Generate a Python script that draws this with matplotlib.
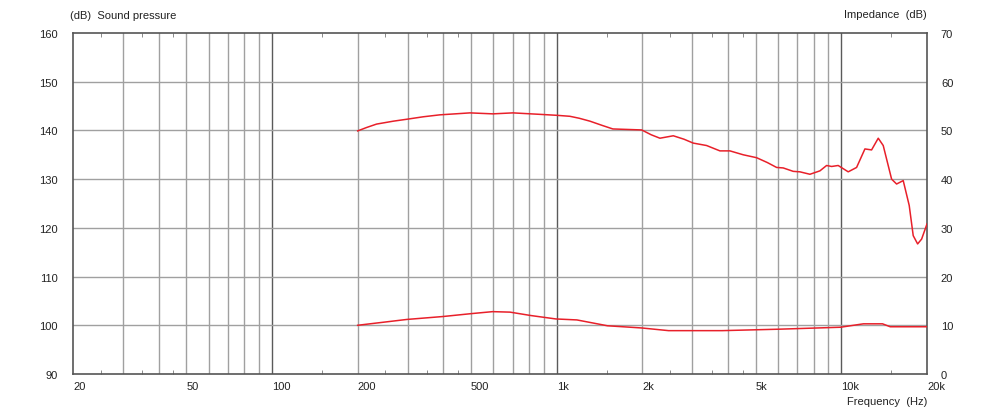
import matplotlib
matplotlib.use("Agg")
import matplotlib.pyplot as plt
import numpy as np

# sound pressure curve (left axis, dB)
spl_freq = [200, 215, 233, 267, 298, 340, 389, 440, 496, 597, 702, 873, 1002,
            1113, 1200, 1309, 1450, 1576, 1989, 2150, 2306, 2569, 2800, 3018,
            3363, 3746, 4062, 4523, 5040, 5500, 5925, 6251, 6777, 7155, 7758,
            8412, 8878, 9247, 9750, 10575, 11316, 12104, 12775, 13482, 14036,
            15021, 15640, 16500, 17320, 17890, 18540, 19150, 20000]
spl_db = [139.9, 140.6, 141.3, 141.9, 142.3, 142.8, 143.2, 143.4, 143.6, 143.4,
          143.6, 143.3, 143.1, 142.9, 142.5, 141.9, 141.0, 140.3, 140.1, 139.1,
          138.4, 138.9, 138.2, 137.4, 136.9, 135.8, 135.8, 135.0, 134.4, 133.4,
          132.4, 132.3, 131.6, 131.5, 131.0, 131.7, 132.8, 132.6, 132.8, 131.5,
          132.4, 136.2, 136.0, 138.4, 136.9, 130.0, 129.0, 129.7, 124.6, 118.4,
          116.7, 117.7, 120.8]

# impedance curve (right axis, dB)
imp_freq = [200, 236, 298, 399, 503, 596, 686, 812, 994, 1178, 1508, 1991,
            2473, 3811, 6055, 9936, 11960, 13955, 14852, 20000]
imp_db = [10.0, 10.5, 11.2, 11.8, 12.4, 12.8, 12.7, 12.0, 11.3, 11.1, 9.9, 9.45,
          8.9, 8.9, 9.2, 9.6, 10.3, 10.3, 9.7, 9.7]

x_ticks = [20, 50, 100, 200, 500, 1000, 2000, 5000, 10000, 20000]
x_labels = ["20", "50", "100", "200", "500", "1k", "2k", "5k", "10k", "20k"]
half_ticks = [25, 35, 45, 150, 250, 350, 450, 1500, 2500, 3500, 4500, 15000]

plt.rcParams["font.family"] = ["Liberation Sans", "DejaVu Sans"]
plt.rcParams["font.size"] = 8

fig = plt.figure(figsize=(10, 4.14), dpi=100)
ax = fig.add_axes([0.073, 0.0942, 0.854, 0.8237])
ax.set_xscale("log")
ax.set_xlim(20, 20000)
ax.set_ylim(90, 160)

# grid
grid_lines = [m * 10 ** e for e in range(1, 5) for m in range(1, 10)]
for f in grid_lines:
    if 20 < f < 20000:
        dark = f in (100, 1000, 10000)
        ax.axvline(f, color="#5a5a5a" if dark else "#a0a0a0", lw=1.0, zorder=1)
for v in range(100, 160, 10):
    ax.axhline(v, color="#a0a0a0", lw=1.0, zorder=1)

for s in ax.spines.values():
    s.set_color("#555555")
    s.set_linewidth(1.2)

ax.set_xticks(x_ticks)
ax.set_xticklabels(x_labels, ha="left")
ax.set_xticks(half_ticks, minor=True)
ax.tick_params(axis="x", which="major", length=0, pad=5, colors="#222222")
ax.tick_params(axis="x", which="minor", direction="in", length=3, top=True,
               color="#777777", labelbottom=False)
ax.set_yticks(range(90, 161, 10))
ax.tick_params(axis="y", length=0, pad=11, colors="#222222")

ax.plot(spl_freq, spl_db, color="#e8202a", lw=1.1, zorder=3)

ax2 = ax.twinx()
ax2.set_ylim(0, 70)
ax2.set_yticks(range(0, 71, 10))
ax2.tick_params(axis="y", length=0, pad=10, colors="#222222")
for s in ax2.spines.values():
    s.set_visible(False)
ax2.plot(imp_freq, imp_db, color="#e8202a", lw=1.1, zorder=3)

fig.text(0.070, 0.962, "(dB)  Sound pressure", ha="left", va="center", color="#222222")
fig.text(0.927, 0.964, "Impedance  (dB)", ha="right", va="center", color="#222222")
fig.text(0.927, 0.030, "Frequency  (Hz)", ha="right", va="center", color="#222222")

fig.savefig("out.png", dpi=100)
